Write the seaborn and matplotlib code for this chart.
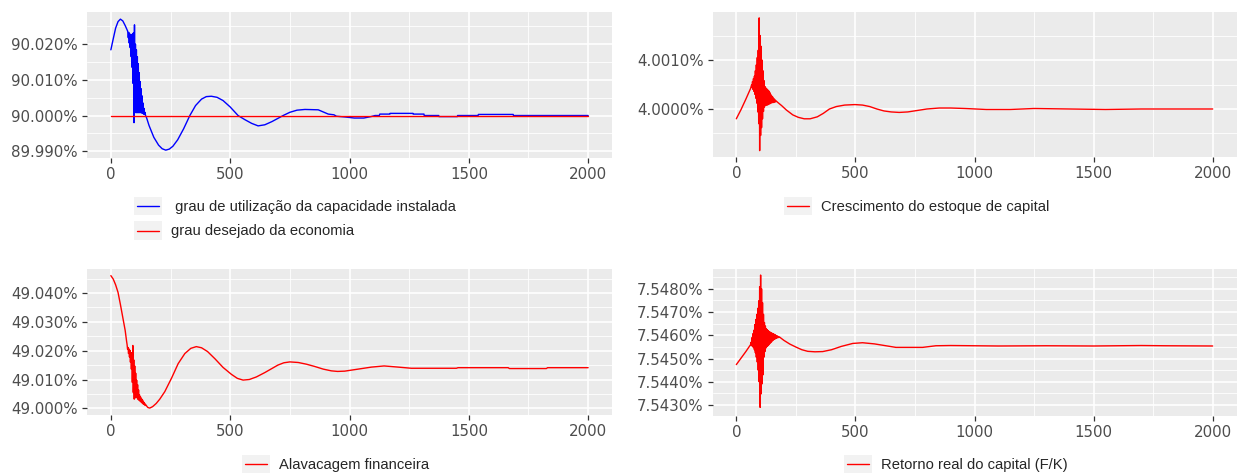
import matplotlib
matplotlib.use("Agg")
import numpy as np
import pandas as pd
import seaborn as sns
import matplotlib.pyplot as plt
from matplotlib.legend_handler import HandlerBase
from matplotlib.patches import Rectangle
from matplotlib.lines import Line2D
from matplotlib.ticker import FuncFormatter, FixedLocator

# ---------------- data ----------------
# Panel 1: grau de utilizacao (blue) vs grau desejado (red), in %
t_util = ([0, 10, 20, 30, 40, 50, 60, 70]
          + list(range(71, 146, 2))
          + [150, 160, 180, 200, 215, 230, 245, 260, 280, 305, 331, 355, 380, 400,
             421, 445, 470, 500, 533, 560, 590, 617, 645, 675, 700, 722, 750, 780,
             813, 869, 890, 911, 935, 945, 980, 1020, 1060, 1090, 1107, 1125, 1127,
             1169, 1170, 1266, 1267, 1312, 1313, 1374, 1375, 1452, 1453, 1539,
             1540, 1686, 1687, 2000])
v_util = ([90.0184, 90.0215, 90.0245, 90.0263, 90.0270, 90.0265, 90.0252, 90.0237]
          + [90.0233, 90.0218, 90.0233, 90.0203, 90.0229, 90.0190, 90.0226, 90.0165,
             90.0226, 90.0135, 90.0229, 90.0090, 90.0232, 89.9980, 90.0254, 90.0009,
             90.0200, 90.0008, 90.0184, 90.0008, 90.0165, 90.0008, 90.0145, 90.0008,
             90.0120, 90.0008, 90.0095, 90.0008, 90.0075, 90.0007, 90.0055, 90.0006,
             90.0035, 90.0004, 90.0020, 90.0003, 90.0009, 90.0001]
          + [89.9993, 89.9972, 89.9939, 89.9917, 89.9907, 89.9903, 89.9906, 89.9914,
             89.9932, 89.9963, 90.0000, 90.0028, 90.0046, 90.0053, 90.0054, 90.0051,
             90.0042, 90.0024, 90.0000, 89.9989, 89.9978, 89.9971, 89.9974, 89.9983,
             89.9992, 90.0000, 90.0009, 90.0015, 90.0017, 90.0016, 90.0010, 90.0004,
             90.0002, 89.9998, 89.9996, 89.9993, 89.9993, 89.9997, 90.0000, 90.0000,
             90.0004, 90.0004, 90.0006, 90.0006, 90.0004, 90.0004, 90.0000, 90.0000,
             89.9997, 89.9997, 90.0000, 90.0000, 90.0003, 90.0003, 90.0000, 90.0000])
t_desej = [0, 2000]
v_desej = [90.0, 90.0]

# Panel 2: crescimento do estoque de capital, in %
t_cresc = ([0, 20, 40, 60]
           + list(range(64, 169, 2))
           + [175, 190, 210, 237, 260, 285, 310, 340, 365, 391, 420, 455, 498, 530,
              560, 590, 620, 650, 684, 720, 760, 800, 852, 900, 960, 1050, 1150,
              1250, 1400, 1550, 1700, 2000])
v_cresc = ([3.99980, 3.99999, 4.00020, 4.00042]
           + [4.00049, 4.00044, 4.00056, 4.00040, 4.00062, 4.00036, 4.00067, 4.00030,
              4.00078, 4.00022, 4.00090, 4.00012, 4.00105, 3.99994, 4.00120, 3.99970,
              4.00186, 3.99915, 4.00150, 3.99946, 4.00128, 3.99962, 4.00100, 3.99980,
              4.00078, 3.99995, 4.00058, 4.00004, 4.00046, 4.00007, 4.00043, 4.00008,
              4.00041, 4.00008, 4.00039, 4.00009, 4.00037, 4.00010, 4.00034, 4.00011,
              4.00030, 4.00012, 4.00027, 4.00013, 4.00025, 4.00013, 4.00022, 4.00014,
              4.00020, 4.00014, 4.00018, 4.00015, 4.00016]
           + [4.00013, 4.00007, 3.99998, 3.99988, 3.99983, 3.99980, 3.99980, 3.99984,
              3.99991, 4.00000, 4.00005, 4.00008, 4.00009, 4.00008, 4.00005, 4.00000,
              3.99996, 3.99994, 3.99993, 3.99994, 3.99997, 4.00000, 4.00002, 4.00002,
              4.00001, 3.99999, 3.99999, 4.00001, 4.00000, 3.99999, 4.00000, 4.00000])

# Panel 3: alavancagem financeira, in %
t_alav = ([0, 10, 20, 30, 40, 50, 60, 66]
          + list(range(68, 151, 2))
          + [155, 163, 175, 190, 205, 226, 255, 282, 310, 335, 358, 380, 405, 436,
             470, 505, 530, 554, 580, 610, 645, 700, 725, 750, 785, 820, 855, 890,
             924, 950, 980, 1036, 1092, 1145, 1204, 1259, 1448, 1455, 1665, 1670,
             1825, 1830, 2000])
v_alav = ([49.0460, 49.0448, 49.0428, 49.0402, 49.0360, 49.0315, 49.0270, 49.0232]
          + [49.0221, 49.0205, 49.0211, 49.0190, 49.0206, 49.0178, 49.0201, 49.0160,
             49.0193, 49.0136, 49.0192, 49.0090, 49.0218, 49.0055, 49.0168, 49.0032,
             49.0147, 49.0036, 49.0122, 49.0042, 49.0098, 49.0036, 49.0082, 49.0031,
             49.0064, 49.0028, 49.0047, 49.0025, 49.0040, 49.0022, 49.0035, 49.0019,
             49.0030, 49.0016, 49.0025, 49.0014, 49.0020, 49.0011, 49.0015, 49.0010,
             49.0011, 49.0008]
          + [49.0003, 49.0001, 49.0006, 49.0017, 49.0032, 49.0058, 49.0106, 49.0155,
             49.0190, 49.0208, 49.0214, 49.0210, 49.0197, 49.0172, 49.0142, 49.0118,
             49.0104, 49.0098, 49.0100, 49.0109, 49.0124, 49.0150, 49.0158, 49.0161,
             49.0159, 49.0153, 49.0145, 49.0136, 49.0130, 49.0128, 49.0129, 49.0136,
             49.0143, 49.0147, 49.0143, 49.0139, 49.0139, 49.0141, 49.0141, 49.0138,
             49.0138, 49.0141, 49.0141])

# Panel 4: retorno real do capital (F/K), in %
t_ret = ([0, 20, 40, 60]
         + list(range(62, 183, 2))
         + [200, 225, 251, 275, 300, 330, 363, 400, 440, 489, 530, 580, 628, 670,
            782, 838, 900, 1000, 1100, 1300, 1500, 1700, 1800, 2000])
v_ret = ([7.54474, 7.54502, 7.54530, 7.54560]
         + [7.54570, 7.54556, 7.54590, 7.54552, 7.54607, 7.54547, 7.54622, 7.54538,
            7.54646, 7.54525, 7.54668, 7.54506, 7.54690, 7.54485, 7.54716, 7.54450,
            7.54748, 7.54400, 7.54809, 7.54290, 7.54859, 7.54348, 7.54800, 7.54391,
            7.54740, 7.54430, 7.54690, 7.54506, 7.54655, 7.54530, 7.54640, 7.54545,
            7.54628, 7.54551, 7.54624, 7.54555, 7.54620, 7.54559, 7.54616, 7.54564,
            7.54614, 7.54568, 7.54611, 7.54572, 7.54609, 7.54577, 7.54607, 7.54580,
            7.54605, 7.54583, 7.54603, 7.54585, 7.54600, 7.54587, 7.54598, 7.54589,
            7.54596, 7.54590, 7.54594, 7.54591, 7.54592]
         + [7.54578, 7.54562, 7.54549, 7.54538, 7.54531, 7.54529, 7.54530, 7.54538,
            7.54552, 7.54565, 7.54568, 7.54563, 7.54555, 7.54548, 7.54548, 7.54555,
            7.54556, 7.54555, 7.54554, 7.54555, 7.54554, 7.54556, 7.54555, 7.54554])

x_ticks = [0, 500, 1000, 1500, 2000]
labels_p1 = [" grau de utilização da capacidade instalada", "grau desejado da economia"]
label_p2 = "Crescimento do estoque de capital"
label_p3 = "Alavacagem financeira"
label_p4 = "Retorno real do capital (F/K)"

# ---------------- style ----------------
sns.set_theme(style="darkgrid", rc={
    "axes.facecolor": "#EBEBEB",
    "grid.color": "white",
    "xtick.bottom": True,
    "ytick.left": True,
})
plt.rcParams["font.family"] = ["DejaVu Sans"]

W, H = 1246, 476
fig = plt.figure(figsize=(W / 100, H / 100), dpi=100)


def make_ax(l, r, top, bot):
    return fig.add_axes([l / W, 1 - bot / H, (r - l) / W, (bot - top) / H])


ax1 = make_ax(87, 612, 12, 158)
ax2 = make_ax(712.5, 1236.5, 12, 157)
ax3 = make_ax(87, 612, 269, 415)
ax4 = make_ax(712.5, 1236.5, 269, 416)

LW = 1.0


def style(ax, ymaj, ymin, ylim, fmt):
    ax.set_xlim(-100, 2100)
    ax.set_ylim(*ylim)
    ax.xaxis.set_major_locator(FixedLocator(x_ticks))
    ax.xaxis.set_minor_locator(FixedLocator([250, 750, 1250, 1750]))
    ax.yaxis.set_major_locator(FixedLocator(ymaj))
    ax.yaxis.set_minor_locator(FixedLocator(ymin))
    ax.yaxis.set_major_formatter(FuncFormatter(lambda v, p: fmt.format(v)))
    ax.grid(which="major", color="white", lw=1.2)
    ax.grid(which="minor", color="white", lw=0.6)
    for s in ax.spines.values():
        s.set_visible(False)
    ax.tick_params(which="major", length=3.5, width=0.9, color="#333333", pad=3,
                   labelcolor="#4D4D4D", labelsize=10.8)
    ax.tick_params(which="minor", length=0)
    ax.set_xlabel("")
    ax.set_ylabel("")


sns.lineplot(x=t_util, y=v_util, ax=ax1, color="#0000FF", lw=LW, estimator=None, sort=False)
sns.lineplot(x=t_desej, y=v_desej, ax=ax1, color="#FF0000", lw=LW, estimator=None, sort=False)
style(ax1, [89.99, 90.00, 90.01, 90.02], [89.995, 90.005, 90.015, 90.025],
      (89.9881, 90.0290), "{:.3f}%")

sns.lineplot(x=t_cresc, y=v_cresc, ax=ax2, color="#FF0000", lw=LW, estimator=None, sort=False)
style(ax2, [4.000, 4.001], [3.9995, 4.0005, 4.0015], (3.99902, 4.00198), "{:.4f}%")

sns.lineplot(x=t_alav, y=v_alav, ax=ax3, color="#FF0000", lw=LW, estimator=None, sort=False)
style(ax3, [49.00, 49.01, 49.02, 49.03, 49.04],
      [49.005, 49.015, 49.025, 49.035, 49.045], (48.9977, 49.0483), "{:.3f}%")

sns.lineplot(x=t_ret, y=v_ret, ax=ax4, color="#FF0000", lw=LW, estimator=None, sort=False)
style(ax4, [7.543, 7.544, 7.545, 7.546, 7.547, 7.548],
      [7.5425, 7.5435, 7.5445, 7.5455, 7.5465, 7.5475, 7.5485],
      (7.54253, 7.54885), "{:.4f}%")


# ---------------- legends (ggplot-like keys) ----------------
class KeyHandler(HandlerBase):
    def create_artists(self, legend, orig_handle, xdescent, ydescent, width, height,
                       fontsize, trans):
        r = Rectangle((-xdescent, -ydescent), width, height, facecolor="#F2F2F2",
                      edgecolor="none", transform=trans)
        y = -ydescent + height / 2
        ln = Line2D([-xdescent + 2, -xdescent + width - 2], [y, y],
                    color=orig_handle.get_color(), lw=orig_handle.get_linewidth(),
                    transform=trans)
        return [r, ln]


def add_legend(colors, labels, x, y):
    handles = [Line2D([], [], color=c, lw=LW) for c in colors]
    fig.legend(handles=handles, labels=labels, loc="upper left",
               bbox_to_anchor=(x / W, 1 - y / H), frameon=False, borderpad=0,
               borderaxespad=0, handlelength=1.9, handleheight=1.55,
               handletextpad=0.6, labelspacing=0.4,
               handler_map={Line2D: KeyHandler()},
               prop={"family": ["Liberation Sans", "DejaVu Sans"], "size": 10.6})


add_legend(["#0000FF", "#FF0000"], labels_p1, 134, 197)
add_legend(["#FF0000"], [label_p2], 784, 197)
add_legend(["#FF0000"], [label_p3], 242, 455)
add_legend(["#FF0000"], [label_p4], 844, 455)

fig.savefig("out.png", dpi=100, facecolor="white")
